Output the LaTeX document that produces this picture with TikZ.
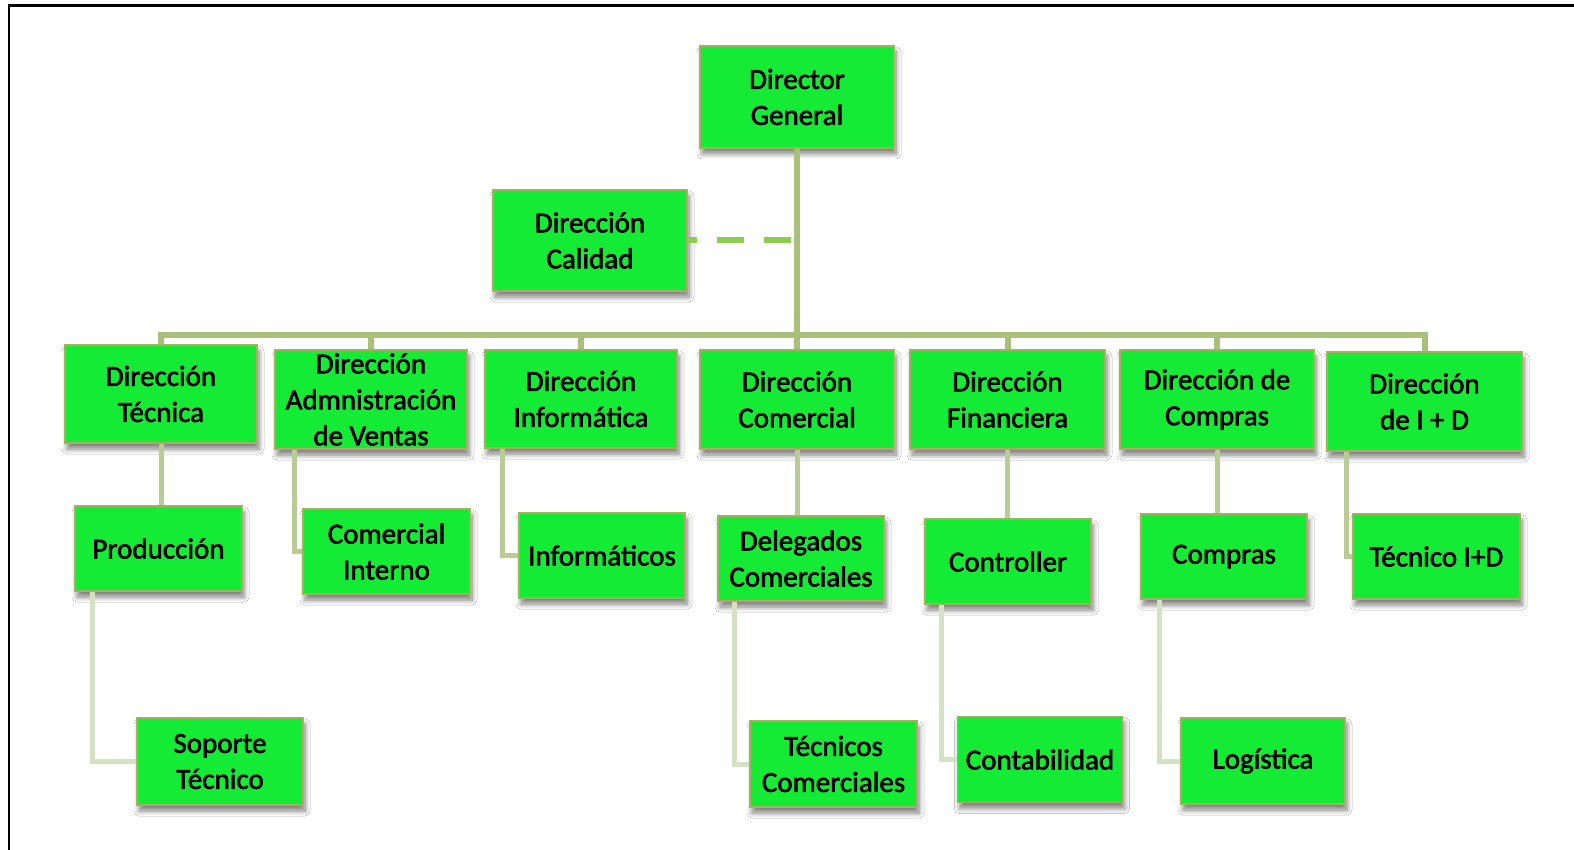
\documentclass[tikz,border=0pt]{standalone}
\usepackage{fontspec}
\setmainfont{Carlito}[FakeBold=2.2]
\usetikzlibrary{shadows.blur}
\definecolor{boxfill}{RGB}{20,235,52}
\definecolor{boxline}{RGB}{165,175,95}
\definecolor{connA}{RGB}{168,192,122}
\definecolor{connB}{RGB}{186,204,150}
\definecolor{connC}{RGB}{214,224,194}
\definecolor{dashc}{RGB}{140,205,80}
\begin{document}
\begin{tikzpicture}[x=1pt,y=-1pt,
  box/.style={draw=boxline, line width=1.2pt, fill=boxfill, align=center,
    inner sep=0pt, font=\fontsize{29}{36}\selectfont,
    blur shadow={shadow xshift=2pt, shadow yshift=-6pt, shadow blur radius=5pt, shadow blur steps=8, shadow blur extra rounding=0pt, shadow opacity=50}},
  connA/.style={draw=connA, line width=6pt},
  connB/.style={draw=connB, line width=5pt},
  connC/.style={draw=connC, line width=5pt},
  dashl/.style={draw=dashc, line width=6pt, dash pattern=on 27pt off 20pt, dash phase=18pt}
]
\useasboundingbox (0,0) rectangle (1574,850);
\fill[white] (0,0) rectangle (1574,850);
\draw[black, line width=2.5pt] (9,5.5) rectangle (1600,900);

\coordinate (bus) at (797,335);

% boxes
\newcommand{\bx}[5]{\node[box, minimum width=#3pt, minimum height=#4pt] (#1) at #2 {#5};}
\bx{dg}{(797,97)}{194}{102}{Director\\General}
\bx{cal}{(590,240.5)}{194}{101}{Dirección\\Calidad}
\bx{tec}{(161,394)}{192}{98}{Dirección\\Técnica}
\bx{adm}{(371,399.5)}{192}{99}{Dirección\\Admnistración\\de Ventas}
\bx{inf}{(581,399)}{192}{98}{Dirección\\Informática}
\bx{com}{(797,399.5)}{194}{99}{Dirección\\Comercial}
\bx{fin}{(1007.5,399.5)}{195}{99}{Dirección\\Financiera}
\bx{cmp}{(1217,399.5)}{194}{99}{Dirección de\\Compras}
\bx{id}{(1424.5,401.5)}{195}{99}{Dirección\\de I + D}
\bx{prod}{(158.5,548.5)}{167}{85}{Producción}
\bx{ci}{(386.5,551.5)}{167}{85}{Comercial\\Interno}
\bx{infs}{(602,555.5)}{166}{85}{Informáticos}
\bx{del}{(801,558.5)}{166}{85}{Delegados\\Comerciales}
\bx{ctrl}{(1008,561.5)}{166}{85}{Controller}
\bx{cmps}{(1224,556.5)}{166}{85}{Compras}
\bx{tid}{(1436.5,556.5)}{167}{85}{Técnico I+D}
\bx{sop}{(220,761.5)}{166}{87}{Soporte\\Técnico}
\bx{tcom}{(833.5,764)}{167}{86}{Técnicos\\Comerciales}
\bx{cont}{(1040,759.5)}{165}{86}{Contabilidad}
\bx{log}{(1263,761)}{164}{86}{Logística}

% level 1 connectors
\draw[connA] (dg.south) -- (bus);
\foreach \n in {tec,adm,inf,com,fin,cmp,id}{
  \draw[connA] (bus) -| (\n.north);
}
\draw[dashl] (cal.east) -- (cal.east -| bus);

% level 2 connectors
\draw[connB] (tec.south) -- (tec.south |- prod.north);
\draw[connB] ([xshift=20pt]adm.south west) |- (ci.west);
\draw[connB] ([xshift=18pt]inf.south west) |- (infs.west);
\draw[connB] (com.south) -- (com.south |- del.north);
\draw[connB] (fin.south) -- (fin.south |- ctrl.north);
\draw[connB] (cmp.south) -- (cmp.south |- cmps.north);
\draw[connB] ([xshift=20pt]id.south west) |- (tid.west);

% level 3 connectors
\draw[connC] ([xshift=18pt]prod.south west) |- (sop.west);
\draw[connC] ([xshift=17pt]del.south west) |- (tcom.west);
\draw[connC] ([xshift=17pt]ctrl.south west) |- (cont.west);
\draw[connC] ([xshift=19pt]cmps.south west) |- (log.west);
\end{tikzpicture}
\end{document}
